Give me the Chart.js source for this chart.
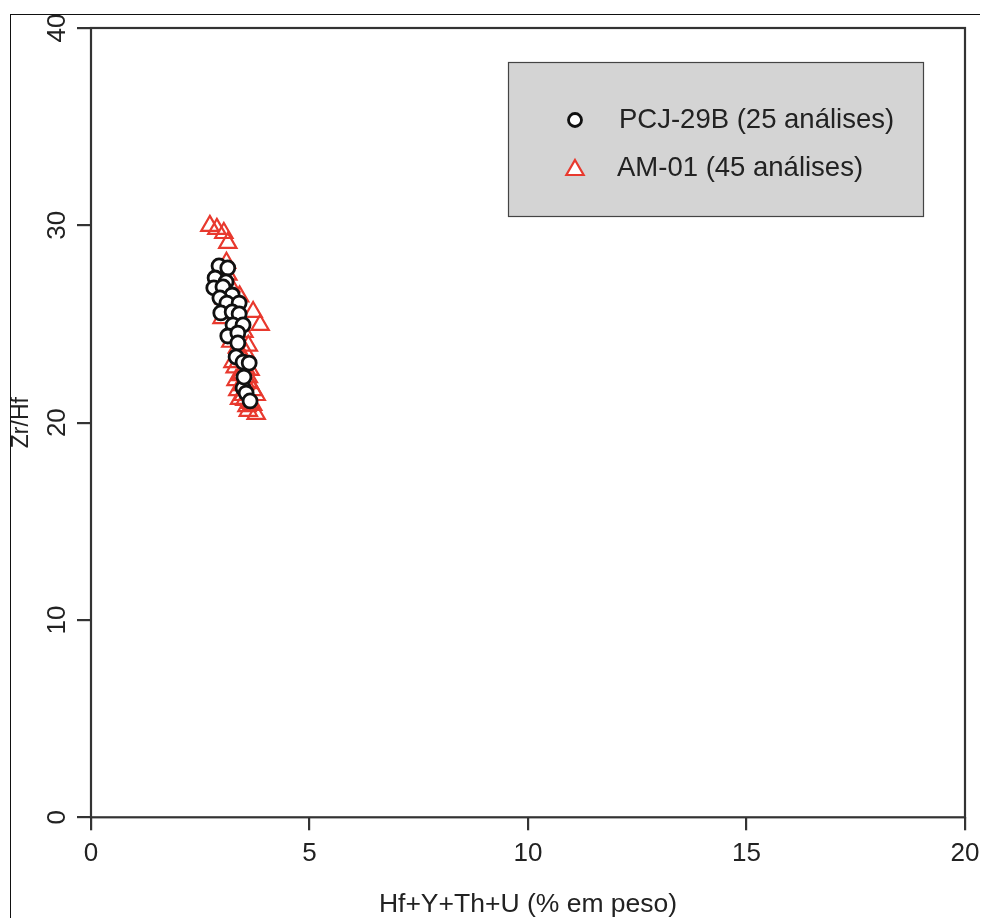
<!DOCTYPE html>
<html><head><meta charset="utf-8">
<script src="https://cdn.jsdelivr.net/npm/chart.js@4/dist/chart.umd.min.js"></script>
<style>
html,body{margin:0;padding:0;background:#fff;}
#wrap{position:relative;width:982px;height:918px;overflow:hidden;background:#fff;}
canvas{position:absolute;left:0;top:0;}
#frame{position:absolute;left:10px;top:14px;width:969px;height:920px;border-top:1.5px solid #111;border-left:1.5px solid #111;pointer-events:none;}
</style></head><body>
<div id="wrap"><canvas id="c" width="982" height="918"></canvas><div id="frame"></div></div>
<script>
// Tick values
const xTicks = [0, 5, 10, 15, 20];
const yTicks = [0, 10, 20, 30, 40];
const xTitle = 'Hf+Y+Th+U (% em peso)';
const yTitle = 'Zr/Hf';
const seriesNames = ['PCJ-29B (25 análises)', 'AM-01 (45 análises)'];

// PCJ-29B (circles)
const pcjX = [2.93, 3.13, 2.84, 3.09, 2.81, 3.02, 3.23, 2.95, 3.11, 3.39, 2.97, 3.23, 3.39, 3.25, 3.48, 3.13, 3.36, 3.36, 3.32, 3.48, 3.62, 3.48, 3.55, 3.64, 3.50];
const pcjY = [27.94, 27.84, 27.33, 27.13, 26.83, 26.88, 26.47, 26.32, 26.06, 26.06, 25.56, 25.61, 25.51, 24.95, 24.95, 24.39, 24.54, 24.04, 23.33, 23.07, 23.02, 21.75, 21.50, 21.10, 22.31];

// AM-01 (triangles)
const amX = [2.72, 2.88, 3.04, 3.13, 3.13, 3.20, 3.05, 3.30, 3.00, 3.71, 3.87, 3.35, 3.20, 3.60, 3.40, 3.25, 3.50, 3.64, 3.41, 3.32, 3.52, 3.45, 3.60, 3.36, 3.71, 3.78, 3.52, 3.57, 3.78, 3.65, 3.45, 3.55, 3.30, 3.48, 3.62, 3.40, 3.70, 3.35, 3.50, 3.25, 3.15, 3.40, 3.10, 3.55, 3.60];
const amY = [29.97, 29.82, 29.61, 29.11, 27.50, 26.90, 26.30, 25.90, 25.30, 25.61, 24.95, 25.00, 24.10, 23.90, 23.60, 23.07, 23.20, 22.67, 22.41, 22.16, 22.06, 22.50, 22.30, 21.65, 21.65, 21.40, 21.15, 20.84, 20.44, 21.00, 21.90, 22.70, 22.80, 21.40, 22.00, 21.20, 20.90, 23.80, 24.60, 24.40, 25.60, 26.40, 28.10, 23.50, 20.60];

const FONT = '"Liberation Sans", Arial, sans-serif';
const AXIS_COLOR = '#333';
const TEXT_COLOR = '#222';
const RED = '#e8392e';

const toPts = (xs, ys) => xs.map((x, i) => ({x: x, y: ys[i]}));

const customDraw = {
  id: 'customDraw',
  afterDraw(chart) {
    const ctx = chart.ctx;
    const a = chart.chartArea;
    const ys = chart.scales.y;
    ctx.save();
    // plot box
    ctx.strokeStyle = AXIS_COLOR;
    ctx.lineWidth = 2.2;
    ctx.strokeRect(a.left, a.top, a.right - a.left, a.bottom - a.top);
    // y tick labels rotated
    ctx.fillStyle = TEXT_COLOR;
    ctx.font = '26px ' + FONT;
    ctx.textAlign = 'center';
    ctx.textBaseline = 'middle';
    yTicks.forEach(v => {
      const py = ys.getPixelForValue(v);
      ctx.save();
      ctx.translate(a.left - 33, py);
      ctx.rotate(-Math.PI / 2);
      ctx.fillText(String(v), 0, 0);
      ctx.restore();
    });
    // y title
    ctx.save();
    ctx.font = '23px ' + FONT;
    ctx.translate(22, (a.top + a.bottom) / 2);
    ctx.rotate(-Math.PI / 2);
    ctx.fillText(yTitle, 0, 0);
    ctx.restore();
    // legend box
    const lx = 508, ly = 62, lw = 415, lh = 154;
    ctx.fillStyle = '#d4d4d4';
    ctx.fillRect(lx, ly, lw, lh);
    ctx.strokeStyle = '#444';
    ctx.lineWidth = 1.2;
    ctx.strokeRect(lx + 0.5, ly + 0.5, lw, lh);
    const ds = chart.data.datasets;
    const rows = [120, 168];
    ds.forEach((d, i) => {
      const style = {
        pointStyle: d.pointStyle,
        radius: i === 0 ? 6.5 : 10,
        borderWidth: d.pointBorderWidth,
        rotation: 0
      };
      ctx.fillStyle = '#fff';
      ctx.strokeStyle = d.pointBorderColor;
      ctx.lineWidth = d.pointBorderWidth;
      Chart.helpers.drawPoint(ctx, style, 575, rows[i] + (i === 1 ? 2 : 0));
      ctx.fillStyle = TEXT_COLOR;
      ctx.font = '27.5px ' + FONT;
      ctx.textAlign = 'left';
      ctx.textBaseline = 'middle';
      ctx.fillText(seriesNames[i], i === 0 ? 619 : 617, rows[i]);
    });
    ctx.restore();
  }
};

new Chart(document.getElementById('c'), {
  type: 'scatter',
  data: {
    datasets: [
      {
        label: seriesNames[0],
        data: toPts(pcjX, pcjY),
        pointStyle: 'circle',
        pointRadius: 7,
        pointBorderWidth: 2.8,
        pointBorderColor: '#111',
        pointBackgroundColor: '#fff',
        borderColor: '#111',
        backgroundColor: '#fff'
      },
      {
        label: seriesNames[1],
        data: toPts(amX, amY),
        pointStyle: 'triangle',
        pointRadius: 10,
        pointBorderWidth: 2.2,
        pointBorderColor: RED,
        pointBackgroundColor: 'rgba(255,255,255,0)',
        borderColor: RED,
        backgroundColor: 'rgba(255,255,255,0)'
      }
    ]
  },
  options: {
    responsive: false,
    animation: false,
    devicePixelRatio: 1,
    layout: { padding: { left: 77, top: 28, right: 17, bottom: 0 } },
    plugins: { legend: { display: false }, tooltip: { enabled: false } },
    scales: {
      x: {
        type: 'linear', min: 0, max: 20,
        afterBuildTicks: s => { s.ticks = xTicks.map(v => ({value: v})); },
        afterFit: s => { s.paddingLeft = 0; s.paddingRight = 0; },
        grid: { drawOnChartArea: false, drawTicks: true, tickLength: 13, color: AXIS_COLOR, lineWidth: 2.2 },
        border: { display: false },
        ticks: { color: TEXT_COLOR, font: { size: 26, family: FONT }, padding: 8, maxRotation: 0 },
        title: { display: true, text: xTitle, color: TEXT_COLOR, font: { size: 26.5, family: FONT, lineHeight: 1 }, padding: { top: 14, bottom: 0 } }
      },
      y: {
        type: 'linear', min: 0, max: 40,
        afterBuildTicks: s => { s.ticks = yTicks.map(v => ({value: v})); },
        afterFit: s => { s.paddingTop = 0; s.paddingBottom = 0; },
        grid: { drawOnChartArea: false, drawTicks: true, tickLength: 14, color: AXIS_COLOR, lineWidth: 2.2 },
        border: { display: false },
        ticks: { display: false }
      }
    }
  },
  plugins: [customDraw]
});
</script>
</body></html>
